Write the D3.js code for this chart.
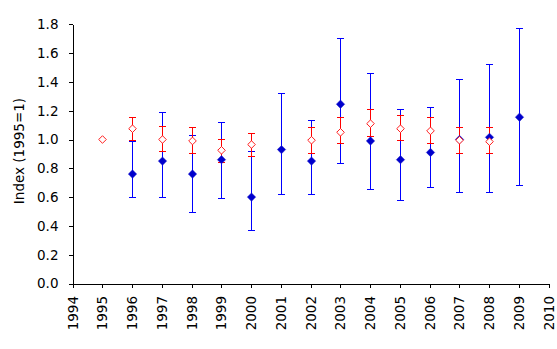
<!DOCTYPE html>
<html>
<head>
<meta charset="utf-8">
<script src="https://cdn.jsdelivr.net/npm/d3@7"></script>
<style>
  html, body { margin: 0; padding: 0; background: #fff; }
  svg { display: block; }
  .axis text { font-family: "DejaVu Sans", Verdana, sans-serif; font-size: 13.5px; fill: #000; }
  .axis path, .axis line { stroke: #000; shape-rendering: crispEdges; }
</style>
</head>
<body>
<svg id="chart" width="557" height="349"></svg>
<script>
// Year ticks and index ticks
const yearTicks = d3.range(1994, 2011);
const indexTicks = [0, 0.2, 0.4, 0.6, 0.8, 1.0, 1.2, 1.4, 1.6, 1.8];

// Series A (blue, filled diamonds) with lower/upper bounds
const blueYears = [1996, 1997, 1998, 1999, 2000, 2001, 2002, 2003, 2004, 2005, 2006, 2007, 2008, 2009];
const blueValues = [0.76, 0.85, 0.76, 0.86, 0.60, 0.93, 0.85, 1.245, 0.99, 0.86, 0.91, 1.0, 1.015, 1.155];
const blueLower = [0.60, 0.60, 0.49, 0.59, 0.37, 0.615, 0.615, 0.83, 0.655, 0.575, 0.665, 0.635, 0.63, 0.68];
const blueUpper = [0.985, 1.19, 1.025, 1.115, 0.915, 1.32, 1.13, 1.70, 1.455, 1.21, 1.225, 1.415, 1.52, 1.77];

// Series B (red, open diamonds) with lower/upper bounds; 1995 is the base year
const redYears = [1995, 1996, 1997, 1998, 1999, 2000, 2002, 2003, 2004, 2005, 2006, 2007, 2008];
const redValues = [1.0, 1.075, 1.0, 0.99, 0.925, 0.965, 0.995, 1.05, 1.11, 1.075, 1.06, 0.995, 0.985];
const redLower = [null, 0.99, 0.92, 0.905, 0.84, 0.88, 0.905, 0.97, 1.02, 0.99, 0.97, 0.905, 0.90];
const redUpper = [null, 1.155, 1.09, 1.08, 1.0, 1.04, 1.08, 1.15, 1.205, 1.17, 1.15, 1.08, 1.08];

const svg = d3.select("#chart");

const x = d3.scaleLinear().domain([1994, 2010]).range([72.5, 548.5]);
const y = d3.scaleLinear().domain([0, 1.8]).range([283.5, 24.3]);

// Axes
const xAxis = d3.axisBottom(x).tickValues(yearTicks).tickFormat(d3.format("d"))
  .tickSize(4).tickSizeOuter(0);
const yAxis = d3.axisLeft(y).tickValues(indexTicks).tickFormat(d3.format(".1f"))
  .tickSize(4).tickSizeOuter(0);

const gx = svg.append("g").attr("class", "axis")
  .attr("transform", `translate(0,${y(0)})`).call(xAxis);
gx.selectAll("text")
  .attr("transform", "rotate(-90)")
  .attr("text-anchor", "end")
  .attr("x", -12.5)
  .attr("y", 0)
  .attr("dy", "0.35em");

const gy = svg.append("g").attr("class", "axis")
  .attr("transform", `translate(${x(1994)},0)`).call(yAxis);
gy.selectAll("text").attr("x", -14);

svg.append("text")
  .attr("transform", `translate(23.5,151) rotate(-90)`)
  .attr("text-anchor", "middle")
  .style("font-family", "DejaVu Sans, Verdana, sans-serif")
  .style("font-size", "13.5px")
  .text("Index (1995=1)");

// Error bars with caps
function errorBars(years, lower, upper, color) {
  const rows = years.map((yr, i) => ({ yr, lo: lower[i], hi: upper[i] }))
    .filter(d => d.lo != null && d.hi != null);
  const g = svg.append("g")
    .attr("stroke", color)
    .attr("stroke-width", 1)
    .attr("shape-rendering", "crispEdges");
  const cap = 3.5;
  rows.forEach(d => {
    const cx = Math.round(x(d.yr)) + 0.5;
    g.append("line").attr("x1", cx).attr("x2", cx).attr("y1", y(d.lo)).attr("y2", y(d.hi));
    g.append("line").attr("x1", cx - cap).attr("x2", cx + cap).attr("y1", y(d.lo)).attr("y2", y(d.lo));
    g.append("line").attr("x1", cx - cap).attr("x2", cx + cap).attr("y1", y(d.hi)).attr("y2", y(d.hi));
  });
}

function diamond(cx, cy, r) {
  return `M${cx},${cy - r}L${cx + r},${cy}L${cx},${cy + r}L${cx - r},${cy}Z`;
}

errorBars(blueYears, blueLower, blueUpper, "#0000ff");
errorBars(redYears, redLower, redUpper, "#ff0000");

// Blue filled diamonds
svg.append("g").selectAll("path")
  .data(blueYears.map((yr, i) => ({ yr, v: blueValues[i] })))
  .join("path")
  .attr("d", d => diamond(Math.round(x(d.yr)) + 0.5, y(d.v), 4.2))
  .attr("fill", "#0000cc")
  .attr("stroke", "#1a1acc")
  .attr("stroke-width", 0.5);

// Red open diamonds
svg.append("g").selectAll("path")
  .data(redYears.map((yr, i) => ({ yr, v: redValues[i] })))
  .join("path")
  .attr("d", d => diamond(Math.round(x(d.yr)) + 0.5, y(d.v), 3.8))
  .attr("fill", "#fff")
  .attr("stroke", "#ff2020")
  .attr("stroke-width", 1);
</script>
</body>
</html>
